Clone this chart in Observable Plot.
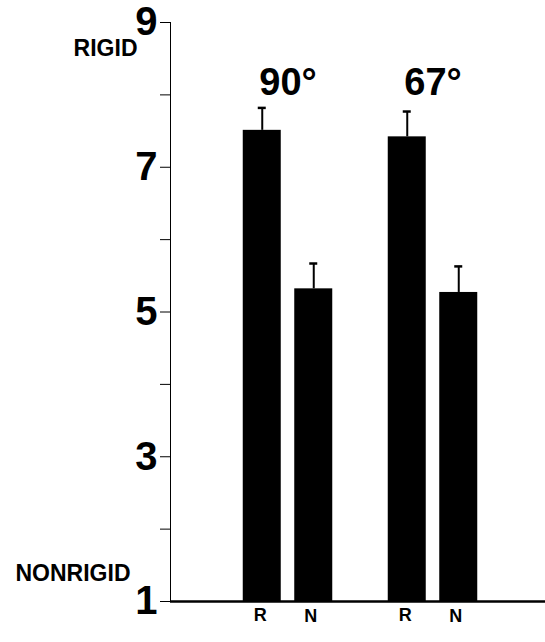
<!DOCTYPE html>
<html>
<head>
<meta charset="utf-8">
<script src="https://cdn.jsdelivr.net/npm/d3@7"></script>
<script src="https://cdn.jsdelivr.net/npm/@observablehq/plot@0.6"></script>
<style>
  html, body { margin: 0; padding: 0; background: #fff; overflow: hidden; }
  #chart svg { display: block; font-family: "Liberation Sans", Arial, Helvetica, sans-serif; }
  #chart g[aria-label="y-axis tick label"] text { font-size: 40px; font-weight: bold; }
</style>
</head>
<body>
<div id="chart"></div>
<script>
// ---- data ----
const groups = ["90°", "67°"];
const conditions = ["R", "N"];
const rigidMeans = [7.51, 7.42];
const rigidUpper = [7.82, 7.77];
const nonrigidMeans = [5.32, 5.27];
const nonrigidUpper = [5.67, 5.63];
const yTickValues = [1, 2, 3, 4, 5, 6, 7, 8, 9];
const yTickLabels = [1, 3, 5, 7, 9];
const topLabel = [{text: "RIGID", value: 8.64}];
const bottomLabel = [{text: "NONRIGID", value: 1.38}];

const rows = [];
groups.forEach((g, i) => {
  rows.push({group: g, cond: conditions[0], mean: rigidMeans[i], upper: rigidUpper[i]});
  rows.push({group: g, cond: conditions[1], mean: nonrigidMeans[i], upper: nonrigidUpper[i]});
});
const R = rows.filter(d => d.cond === "R");
const N = rows.filter(d => d.cond === "N");

const off = 25.75;
const font = "Liberation Sans, Arial, Helvetica, sans-serif";

const chart = Plot.plot({
  width: 545,
  height: 642,
  marginLeft: 170,
  marginRight: 0,
  marginTop: 22,
  marginBottom: 41,
  style: {background: "#fff", color: "#000", fontFamily: font},
  x: {domain: groups, axis: null, paddingInner: 0, paddingOuter: 0.293, align: 0.532},
  y: {
    domain: [1, 9],
    ticks: yTickValues,
    tickFormat: d => yTickLabels.includes(d) ? String(d) : "",
    tickSize: 10,
    tickPadding: 3,
    line: true,
    label: null
  },
  marks: [
    // error bars (upper half only visible)
    Plot.ruleX(R, {x: "group", y1: "mean", y2: "upper", dx: -off, stroke: "#000", strokeWidth: 2}),
    Plot.ruleX(N, {x: "group", y1: "mean", y2: "upper", dx: off, stroke: "#000", strokeWidth: 2}),
    Plot.tickY(R, {x: "group", y: "upper", insetLeft: 42.75, insetRight: 94.25, stroke: "#000", strokeWidth: 2.5}),
    Plot.tickY(N, {x: "group", y: "upper", insetLeft: 94.25, insetRight: 42.75, stroke: "#000", strokeWidth: 2.5}),
    // bars
    Plot.barY(R, {x: "group", y1: 1, y2: "mean", insetLeft: 27.75, insetRight: 79.25, fill: "#000"}),
    Plot.barY(N, {x: "group", y1: 1, y2: "mean", insetLeft: 79.25, insetRight: 27.75, fill: "#000"}),
    // baseline
    Plot.ruleY([1], {stroke: "#000", strokeWidth: 2.5}),
    // condition labels
    Plot.text(R, {x: "group", text: "cond", frameAnchor: "bottom", dy: 19, dx: -off - 2, fontSize: 18, fontWeight: "bold", fill: "#000"}),
    Plot.text(N, {x: "group", text: "cond", frameAnchor: "bottom", dy: 20, dx: off - 3, fontSize: 18, fontWeight: "bold", fill: "#000"}),
    // group labels
    Plot.text(groups, {x: d => d, text: d => d, frameAnchor: "top", dy: 46, fontSize: 38, fontWeight: "bold", fill: "#000"}),
    // RIGID / NONRIGID
    Plot.text(topLabel, {y: "value", text: "text", frameAnchor: "left", textAnchor: "end", dx: -33, fontSize: 23, fontWeight: "bold", fill: "#000"}),
    Plot.text(bottomLabel, {y: "value", text: "text", frameAnchor: "left", textAnchor: "end", dx: -40, fontSize: 23, fontWeight: "bold", fill: "#000"})
  ]
});
document.getElementById("chart").appendChild(chart);
</script>
</body>
</html>
